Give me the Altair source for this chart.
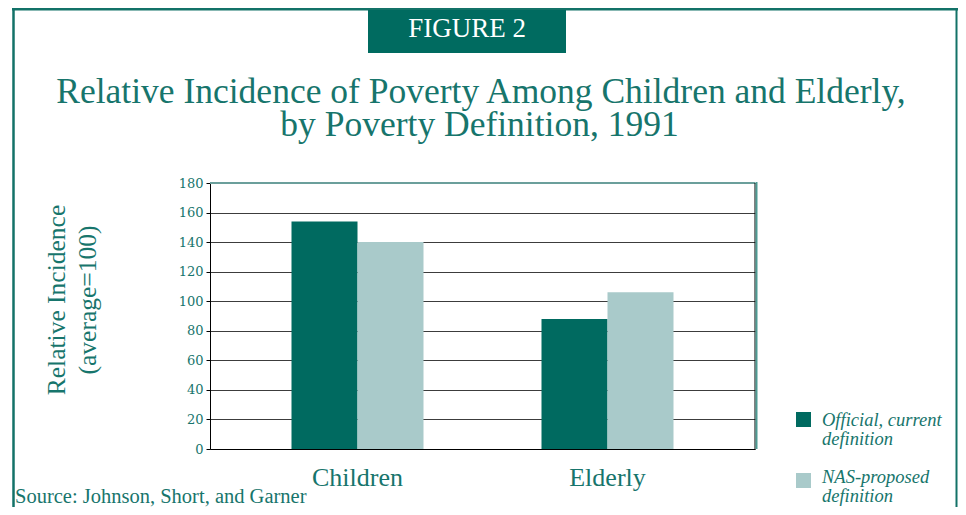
import altair as alt
import pandas as pd

# ---- data ----
groups = ["Children", "Elderly"]
series = ["Official, current definition", "NAS-proposed definition"]
official = [154, 88]
nas = [140, 106]
y_ticks = [0, 20, 40, 60, 80, 100, 120, 140, 160, 180]
legend_lines = [["Official, current", "definition"], ["NAS-proposed", "definition"]]
title_lines = ["Relative Incidence of Poverty Among Children and Elderly,",
               "by Poverty Definition, 1991"]
ytitle_lines = ["Relative Incidence", "(average=100)"]
figure_label = "FIGURE 2"
source_text = "Source: Johnson, Short, and Garner"

colors = ["#006a60", "#a9caca"]
TEAL = "#17756c"
SERIF = "Liberation Serif"

rows = []
for g, a, b in zip(groups, official, nas):
    rows.append({"group": g, "series": series[0], "value": a})
    rows.append({"group": g, "series": series[1], "value": b})
df = pd.DataFrame(rows)

W, H = 545, 266

bars = alt.Chart(df).mark_bar().encode(
    x=alt.X("group:N", sort=groups,
            scale=alt.Scale(paddingInner=0.472, paddingOuter=0.326),
            axis=alt.Axis(title=None, labelAngle=0, ticks=False, domainColor="#000000",
                          labelFont=SERIF, labelFontSize=26, labelColor=TEAL,
                          labelPadding=15, grid=False)),
    xOffset=alt.XOffset("series:N", sort=series,
                        scale=alt.Scale(paddingInner=0, paddingOuter=0)),
    y=alt.Y("value:Q", scale=alt.Scale(domain=[0, 180], nice=False),
            axis=alt.Axis(title=None, values=y_ticks, grid=True, gridColor="#3c3c3c",
                          gridOpacity=1, domainColor="#000000", tickColor="#000000",
                          tickSize=4, labelPadding=3, labelFont="DejaVu Serif",
                          labelFontSize=13, labelColor=TEAL)),
    color=alt.Color("series:N", sort=series,
                    scale=alt.Scale(domain=series, range=colors), legend=None),
)


def txt(s, x, y, size, color=TEAL, align="center", angle=0, style="normal",
        font=SERIF):
    return alt.Chart(pd.DataFrame({"t": [s]})).mark_text(
        align=align, baseline="alphabetic", fontSize=size, font=font,
        color=color, angle=angle, fontStyle=style,
    ).encode(x=alt.value(x), y=alt.value(y), text="t:N")


def rule(x, x2, y, y2, color, width):
    return alt.Chart(pd.DataFrame({"a": [0]})).mark_rule(
        color=color, strokeWidth=width
    ).encode(x=alt.value(x), x2=alt.value(x2), y=alt.value(y), y2=alt.value(y2))


# origin of plot area is at page (210, 183)
layers = [bars]
# plot frame top and right
layers.append(rule(0, W, 0, 0, "#6b9f9b", 2))
layers.append(rule(W, W, 0, H, "#000000", 1))
layers.append(rule(W + 1.5, W + 1.5, -1, H, "#4d9a92", 2))
# page frame
layers.append(rule(-198, 748, -173.7, -173.7, "#137268", 2.5))
layers.append(rule(-196.5, -196.5, -175, 324, "#137268", 2.5))
layers.append(rule(746.5, 746.5, -175, 324, "#137268", 2))
# figure label box
layers.append(alt.Chart(pd.DataFrame({"a": [0]})).mark_rect(color="#006b60").encode(
    x=alt.value(158), x2=alt.value(356), y=alt.value(-173), y2=alt.value(-130)))
layers.append(txt(figure_label, 257, -146, 27, color="#ffffff"))
# titles
layers.append(txt(title_lines[0], 271, -80, 35.5))
layers.append(txt(title_lines[1], 269.5, -47, 35.5))
# y title (rotated)
layers.append(txt(ytitle_lines[0], -145, 117, 25.5, angle=270))
layers.append(txt(ytitle_lines[1], -114, 117, 25.5, angle=270))
# legend
sq_y = [236.5, 297.5]
txt_y = [[243, 262], [300, 319]]
for i, s in enumerate(series):
    layers.append(alt.Chart(pd.DataFrame({"s": [s]})).mark_square(size=225, opacity=1).encode(
        x=alt.value(593.5), y=alt.value(sq_y[i]),
        color=alt.Color("s:N", scale=alt.Scale(domain=series, range=colors), legend=None)))
    for j, line in enumerate(legend_lines[i]):
        layers.append(txt(line, 612, txt_y[i][j], 18.5, align="left", style="italic"))
# source
layers.append(txt(source_text, -195, 319.5, 20.5, align="left"))

chart = alt.layer(*layers).properties(
    width=W, height=H,
    padding={"left": 202, "top": 175, "right": 203, "bottom": 58},
    autosize=alt.AutoSizeParams(type="none"),
    background="#ffffff",
).configure_view(stroke=None)

chart.save("out.html", embed_options={"renderer": "svg", "actions": False})
